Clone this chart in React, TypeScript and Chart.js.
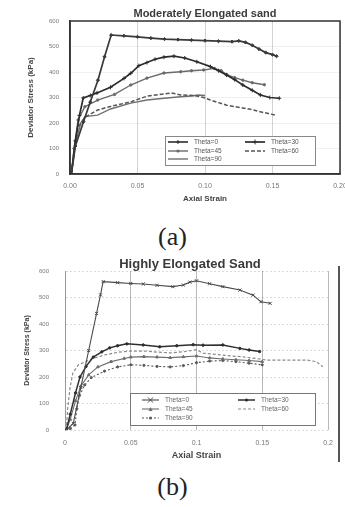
import React, { useEffect, useRef } from "react";
import { Chart, registerables } from "chart.js";

Chart.register(...registerables);

// ---------- shared labels / ticks ----------
const seriesNames = ["Theta=0", "Theta=30", "Theta=45", "Theta=60", "Theta=90"];
const yTickValues = [0, 100, 200, 300, 400, 500, 600];
const xTickValues = [0, 0.05, 0.1, 0.15, 0.2];
const xTickLabelsA = ["0.00", "0.05", "0.10", "0.15", "0.20"];
const xTickLabelsB = ["0", "0.05", "0.1", "0.15", "0.2"];

const titleA = "Moderately Elongated sand";
const titleB = "Highly Elongated Sand";
const xAxisTitle = "Axial Strain";
const yAxisTitle = "Deviator Stress (kPa)";

// ---------- (a) Moderately Elongated sand ----------
const strainA0 = [0.001, 0.004, 0.01, 0.015, 0.0207, 0.0256, 0.0305, 0.04, 0.05, 0.06, 0.07, 0.08, 0.09, 0.1, 0.11, 0.12, 0.125, 0.13, 0.135, 0.14, 0.145, 0.15, 0.153];
const stressA0 = [0, 110, 205, 282, 368, 460, 545, 542, 538, 533, 529, 527, 525, 523, 521, 519, 522, 516, 505, 490, 476, 468, 462];

const strainA1 = [0.001, 0.004, 0.007, 0.0098, 0.015, 0.02, 0.03, 0.04, 0.045, 0.051, 0.057, 0.063, 0.0696, 0.077, 0.085, 0.094, 0.104, 0.11, 0.116, 0.122, 0.128, 0.135, 0.141, 0.148, 0.155];
const stressA1 = [0, 130, 230, 298, 308, 318, 340, 375, 395, 425, 437, 450, 458, 462, 455, 440, 421, 405, 388, 370, 349, 328, 310, 300, 297];

const strainA2 = [0.001, 0.003, 0.006, 0.011, 0.0205, 0.033, 0.045, 0.057, 0.0696, 0.082, 0.09, 0.099, 0.107, 0.112, 0.116, 0.122, 0.128, 0.135, 0.144];
const stressA2 = [0, 100, 212, 264, 290, 312, 349, 376, 396, 401, 405, 408, 414, 405, 390, 378, 368, 358, 350];

const strainA3 = [0.001, 0.003, 0.006, 0.012, 0.0205, 0.03, 0.045, 0.057, 0.0696, 0.075, 0.082, 0.0916, 0.099, 0.104, 0.11, 0.116, 0.122, 0.128, 0.135, 0.141, 0.147, 0.152];
const stressA3 = [0, 90, 185, 225, 251, 265, 283, 305, 314, 318, 310, 308, 300, 290, 280, 270, 264, 259, 252, 244, 237, 231];

const strainA4 = [0.001, 0.004, 0.008, 0.011, 0.0205, 0.03, 0.045, 0.057, 0.0696, 0.082, 0.09, 0.095, 0.1];
const stressA4 = [0, 120, 200, 225, 231, 255, 278, 290, 297, 303, 306, 310, 308];

// ---------- (b) Highly Elongated Sand ----------
const strainB0 = [0.001, 0.0063, 0.012, 0.018, 0.024, 0.027, 0.029, 0.04, 0.05, 0.0595, 0.07, 0.082, 0.09, 0.095, 0.1, 0.11, 0.12, 0.133, 0.143, 0.149, 0.156];
const stressB0 = [0, 25, 160, 300, 440, 510, 560, 556, 553, 551, 546, 541, 547, 558, 563, 552, 541, 528, 509, 484, 478];

const strainB1 = [0.001, 0.004, 0.008, 0.0114, 0.016, 0.0215, 0.028, 0.034, 0.04, 0.047, 0.0595, 0.072, 0.085, 0.0975, 0.105, 0.12, 0.133, 0.14, 0.148];
const stressB1 = [0, 60, 140, 200, 240, 275, 295, 310, 318, 325, 321, 314, 318, 322, 320, 321, 308, 302, 296];

const strainB2 = [0.001, 0.004, 0.008, 0.012, 0.018, 0.025, 0.035, 0.045, 0.05, 0.06, 0.07, 0.08, 0.09, 0.1, 0.11, 0.12, 0.13, 0.14, 0.15];
const stressB2 = [0, 40, 110, 165, 208, 238, 258, 270, 275, 277, 275, 273, 276, 279, 272, 268, 265, 262, 258];

const strainB3 = [0.001, 0.002, 0.004, 0.006, 0.01, 0.02, 0.03, 0.04, 0.05, 0.06, 0.07, 0.08, 0.09, 0.1, 0.105, 0.115, 0.125, 0.135, 0.145, 0.153, 0.161, 0.171, 0.184, 0.191, 0.196];
const stressB3 = [0, 80, 165, 215, 245, 268, 283, 293, 298, 298, 294, 291, 295, 303, 290, 285, 280, 276, 270, 264, 264, 264, 264, 258, 239];

const strainB4 = [0.001, 0.004, 0.0076, 0.009, 0.011, 0.015, 0.02, 0.03, 0.04, 0.05, 0.06, 0.07, 0.08, 0.09, 0.1, 0.11, 0.12, 0.13, 0.14, 0.15];
const stressB4 = [0, 5, 19, 80, 130, 170, 198, 222, 238, 246, 244, 240, 238, 243, 254, 260, 262, 258, 252, 246];

const pts = (xs: number[], ys: number[]) => xs.map((x, i) => ({ x, y: ys[i] }));

// ---------- styles ----------
type Sty = { color: string; width: number; dash: number[]; marker: string | false; r: number };
const stylesA: Sty[] = [
  { color: "#3a3a3a", width: 1.7, dash: [], marker: "rectRot", r: 1.6 },
  { color: "#2c2c2c", width: 1.7, dash: [], marker: "cross", r: 2 },
  { color: "#6a6a6a", width: 1.4, dash: [], marker: "circle", r: 1.2 },
  { color: "#555555", width: 1.5, dash: [4, 2], marker: false, r: 0 },
  { color: "#707070", width: 1.4, dash: [], marker: false, r: 0 },
];
const stylesB: Sty[] = [
  { color: "#4a4a4a", width: 1.1, dash: [], marker: "crossRot", r: 2.2 },
  { color: "#2e2e2e", width: 1.5, dash: [], marker: "circle", r: 1.2 },
  { color: "#6e6e6e", width: 1.1, dash: [], marker: "triangle", r: 1.6 },
  { color: "#8a8a8a", width: 1.2, dash: [3, 2], marker: false, r: 0 },
  { color: "#5a5a5a", width: 1.1, dash: [2, 2], marker: "circle", r: 1.1 },
];

function drawMarker(ctx: CanvasRenderingContext2D, style: string, x: number, y: number, r: number, color: string) {
  ctx.save();
  ctx.strokeStyle = color;
  ctx.fillStyle = color;
  ctx.lineWidth = 1;
  ctx.setLineDash([]);
  ctx.beginPath();
  if (style === "circle") {
    ctx.arc(x, y, r, 0, Math.PI * 2);
    ctx.fill();
  } else if (style === "rectRot") {
    ctx.moveTo(x, y - r);
    ctx.lineTo(x + r, y);
    ctx.lineTo(x, y + r);
    ctx.lineTo(x - r, y);
    ctx.closePath();
    ctx.fill();
  } else if (style === "cross") {
    ctx.moveTo(x - r, y);
    ctx.lineTo(x + r, y);
    ctx.moveTo(x, y - r);
    ctx.lineTo(x, y + r);
    ctx.stroke();
  } else if (style === "crossRot") {
    ctx.moveTo(x - r, y - r);
    ctx.lineTo(x + r, y + r);
    ctx.moveTo(x - r, y + r);
    ctx.lineTo(x + r, y - r);
    ctx.stroke();
  } else if (style === "triangle") {
    ctx.moveTo(x, y - r);
    ctx.lineTo(x + r, y + r);
    ctx.lineTo(x - r, y + r);
    ctx.closePath();
    ctx.fill();
  }
  ctx.restore();
}

const titlePlugin = {
  id: "titleText",
  afterDraw(chart: any, _a: any, o: any) {
    const ctx = chart.ctx;
    ctx.save();
    ctx.font = o.font;
    ctx.fillStyle = o.color;
    ctx.textAlign = "center";
    ctx.textBaseline = "middle";
    ctx.fillText(o.text, o.x, o.y);
    ctx.restore();
  },
};

const framePlugin = {
  id: "frameBox",
  afterDatasetsDraw(chart: any, _a: any, o: any) {
    if (!o.show) return;
    const { ctx, chartArea: c } = chart;
    ctx.save();
    ctx.strokeStyle = o.color;
    ctx.lineWidth = o.width;
    ctx.strokeRect(c.left, c.top, c.right - c.left, c.bottom - c.top);
    ctx.restore();
  },
};

const legendPlugin = {
  id: "boxLegend",
  afterDraw(chart: any, _a: any, o: any) {
    const { ctx, chartArea: c } = chart;
    const x0 = c.left + o.dx;
    const y0 = c.top + o.dy;
    ctx.save();
    ctx.fillStyle = "#ffffff";
    ctx.fillRect(x0, y0, o.w, o.h);
    ctx.strokeStyle = o.border;
    ctx.lineWidth = 1;
    ctx.strokeRect(x0 + 0.5, y0 + 0.5, o.w, o.h);
    chart.data.datasets.forEach((ds: any, i: number) => {
      const col = i % 2;
      const row = Math.floor(i / 2);
      const sx = x0 + o.cols[col];
      const sy = y0 + o.rows[row];
      ctx.strokeStyle = ds.borderColor;
      ctx.lineWidth = ds.borderWidth;
      ctx.setLineDash(ds.borderDash || []);
      ctx.beginPath();
      ctx.moveTo(sx, sy);
      ctx.lineTo(sx + o.sample, sy);
      ctx.stroke();
      ctx.setLineDash([]);
      if (ds.pointRadius > 0) drawMarker(ctx, ds.pointStyle, sx + o.sample / 2, sy, ds.pointRadius + 0.4, ds.borderColor);
      ctx.fillStyle = o.textColor;
      ctx.font = o.font;
      ctx.textAlign = "left";
      ctx.textBaseline = "middle";
      ctx.fillText(ds.label, sx + o.sample + o.gap, sy);
    });
    ctx.restore();
  },
};

function buildDatasets(xsList: number[][], ysList: number[][], styles: Sty[]) {
  return xsList.map((xs, i) => {
    const s = styles[i];
    return {
      label: seriesNames[i],
      data: pts(xs, ysList[i]),
      showLine: true,
      borderColor: s.color,
      backgroundColor: s.color,
      borderWidth: s.width,
      borderDash: s.dash,
      pointStyle: s.marker || "circle",
      pointRadius: s.marker ? s.r : 0,
      pointBorderWidth: 1,
      tension: 0,
    };
  });
}

function makeConfig(kind: "a" | "b") {
  const isA = kind === "a";
  const datasets = isA
    ? buildDatasets([strainA0, strainA1, strainA2, strainA3, strainA4], [stressA0, stressA1, stressA2, stressA3, stressA4], stylesA)
    : buildDatasets([strainB0, strainB1, strainB2, strainB3, strainB4], [stressB0, stressB1, stressB2, stressB3, stressB4], stylesB);
  const xLabels = isA ? xTickLabelsA : xTickLabelsB;
  const font = "'Liberation Sans', Arial, sans-serif";
  return {
    type: "scatter",
    data: { datasets },
    plugins: [titlePlugin, framePlugin, legendPlugin],
    options: {
      responsive: false,
      animation: false,
      devicePixelRatio: 1,
      layout: { padding: isA ? { top: 21, right: 2, left: 0, bottom: 0 } : { top: 26, right: 17, left: 0, bottom: 0 } },
      scales: {
        x: {
          type: "linear",
          min: 0,
          max: 0.2,
          afterBuildTicks: (sc: any) => {
            sc.ticks = xTickValues.map((v) => ({ value: v }));
          },
          afterFit: (sc: any) => {
            sc.height = isA ? 41 : 40;
            sc.paddingLeft = 0;
            sc.paddingRight = 0;
          },
          ticks: {
            callback: (_v: any, i: number) => xLabels[i],
            font: { family: font, size: 7 },
            color: "#777",
            padding: isA ? 8 : 9,
            maxRotation: 0,
            autoSkip: false,
          },
          grid: isA
            ? { color: "rgba(0,0,0,0.22)", lineWidth: 0.8, drawTicks: false }
            : { color: "rgba(0,0,0,0.35)", lineWidth: 0.8, drawTicks: false, borderDash: [2, 2] },
          border: isA ? { color: "#333", width: 1.5 } : { display: false },
          title: {
            display: true,
            text: xAxisTitle,
            font: { family: font, size: isA ? 8 : 9, weight: "bold" },
            color: "#444",
            padding: { top: 0, bottom: isA ? 11 : 9 },
          },
        },
        y: {
          type: "linear",
          min: 0,
          max: 600,
          afterBuildTicks: (sc: any) => {
            sc.ticks = yTickValues.map((v) => ({ value: v }));
          },
          afterFit: (sc: any) => {
            sc.width = isA ? 70 : 65;
          },
          ticks: {
            font: { family: font, size: 6 },
            color: "#777",
            padding: isA ? 11 : 16,
          },
          grid: isA
            ? { color: "rgba(0,0,0,0.07)", lineWidth: 0.8, drawTicks: false }
            : { color: "rgba(0,0,0,0.18)", lineWidth: 0.8, drawTicks: false },
          border: isA ? { color: "#333", width: 1.5 } : { color: "#999", width: 1, dash: [2, 2] },
          title: {
            display: true,
            text: yAxisTitle,
            font: { family: font, size: isA ? 8 : 7, weight: "bold" },
            color: "#444",
            padding: { top: isA ? 26 : 23, bottom: 0 },
          },
        },
      },
      plugins: {
        legend: { display: false },
        tooltip: { enabled: false },
        titleText: isA
          ? { text: titleA, x: 205, y: 14, font: `bold 11px ${font}`, color: "#3a3a3a" }
          : { text: titleB, x: 190, y: 19, font: `bold 13px ${font}`, color: "#3a3a3a" },
        frameBox: { show: isA, color: "#333", width: 1.5 },
        boxLegend: isA
          ? { dx: 95, dy: 115, w: 150, h: 29, rows: [6, 15, 23], cols: [3, 80], sample: 20, gap: 6, font: `6.5px ${font}`, textColor: "#555", border: "#888" }
          : { dx: 65, dy: 122, w: 185, h: 32, rows: [7, 16, 25], cols: [12, 108], sample: 17, gap: 6, font: `6.5px ${font}`, textColor: "#666", border: "#777" },
      },
    },
  } as any;
}

function ChartCanvas({ kind, width, height }: { kind: "a" | "b"; width: number; height: number }) {
  const ref = useRef<HTMLCanvasElement | null>(null);
  useEffect(() => {
    const chart = new Chart(ref.current as HTMLCanvasElement, makeConfig(kind));
    return () => chart.destroy();
  }, [kind]);
  return <canvas ref={ref} width={width} height={height} style={{ display: "block", width, height }} />;
}

export default function App() {
  const caption: React.CSSProperties = {
    position: "absolute",
    left: 0,
    width: 345,
    textAlign: "center",
    fontFamily: "'Liberation Serif', 'DejaVu Serif', serif",
    fontSize: 26,
    lineHeight: "30px",
    color: "#222",
  };
  return (
    <div style={{ position: "absolute", left: 0, top: 0, width: 345, height: 507, background: "#fff", overflow: "hidden" }}>
      <div style={{ position: "absolute", left: 0, top: 0 }}>
        <ChartCanvas kind="a" width={345} height={215} />
      </div>
      <div style={{ ...caption, top: 222 }}>(a)</div>
      <div style={{ position: "absolute", left: 0, top: 245 }}>
        <ChartCanvas kind="b" width={345} height={225} />
      </div>
      <div style={{ position: "absolute", left: 338, top: 266, width: 2, height: 196, background: "#555" }} />
      <div style={{ ...caption, top: 472 }}>(b)</div>
    </div>
  );
}
